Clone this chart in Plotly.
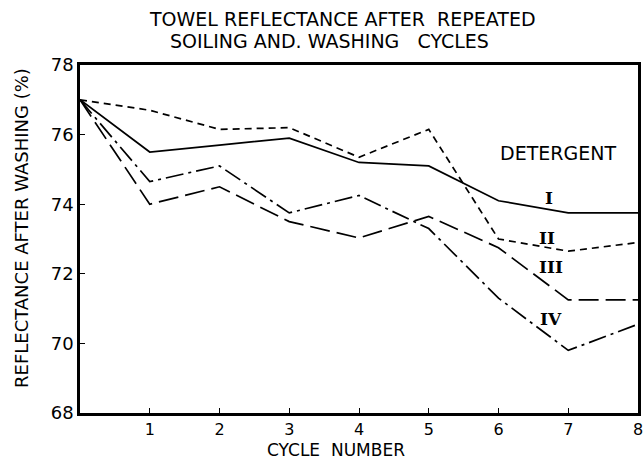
import plotly.graph_objects as go

cycles = [0, 1, 2, 3, 4, 5, 6, 7, 8]
det_I = [77.0, 75.5, 75.7, 75.9, 75.2, 75.1, 74.1, 73.75, 73.75]
det_II = [77.0, 76.7, 76.15, 76.2, 75.35, 76.15, 73.0, 72.65, 72.9]
det_III = [77.0, 74.0, 74.5, 73.5, 73.03, 73.65, 72.75, 71.25, 71.25]
det_IV = [77.0, 74.65, 75.1, 73.75, 74.25, 73.3, 71.3, 69.8, 70.55]

series_names = ["I", "II", "III", "IV"]
series_values = [det_I, det_II, det_III, det_IV]
series_dash = ["solid", "7px,5px", "20px,7px", "18px,5px,3px,5px"]
label_pos = [(6.73, 74.18), (6.69, 73.03), (6.75, 72.2), (6.75, 70.7)]

x_ticks = [1, 2, 3, 4, 5, 6, 7, 8]
y_ticks = [68, 70, 72, 74, 76, 78]

# plot area in pixels: left 80, right 638, top 65, bottom 413
L, R, T, B = 80, 638, 65, 413
W, H = 644, 460


def px(xp):
    return (xp - L) / (R - L)


def py(yp):
    return (B - yp) / (B - T)


fig = go.Figure()
for name, vals, dash in zip(series_names, series_values, series_dash):
    fig.add_trace(go.Scatter(x=cycles, y=vals, mode="lines", name=name,
                             line=dict(color="black", width=1.7, dash=dash)))

font_sans = "DejaVu Sans"
annotations = []
for name, (lx, ly) in zip(series_names, label_pos):
    annotations.append(dict(x=lx, y=ly, xref="x", yref="y", text="<b>" + name + "</b>",
                            showarrow=False, xanchor="center", yanchor="middle",
                            font=dict(family="DejaVu Serif", size=17, color="black")))
annotations.append(dict(x=6.85, y=75.47, xref="x", yref="y", text="DETERGENT", showarrow=False,
                        xanchor="center", yanchor="middle",
                        font=dict(family=font_sans, size=19, color="black")))
annotations.append(dict(x=px(342), y=py(19), xref="paper", yref="paper",
                        xanchor="center", yanchor="middle",
                        text="TOWEL REFLECTANCE AFTER\u00a0\u00a0REPEATED", showarrow=False,
                        font=dict(family=font_sans, size=19, color="black")))
annotations.append(dict(x=px(329), y=py(41), xref="paper", yref="paper",
                        xanchor="center", yanchor="middle",
                        text="SOILING AND. WASHING\u00a0\u00a0\u00a0CYCLES", showarrow=False,
                        font=dict(family=font_sans, size=19, color="black")))
annotations.append(dict(x=px(336), y=py(450), xref="paper", yref="paper",
                        xanchor="center", yanchor="middle",
                        text="CYCLE\u00a0\u00a0NUMBER", showarrow=False,
                        font=dict(family=font_sans, size=17, color="black")))
annotations.append(dict(x=px(22), y=py(228), xref="paper", yref="paper", textangle=-90,
                        xanchor="center", yanchor="middle",
                        text="REFLECTANCE AFTER WASHING (%)", showarrow=False,
                        font=dict(family=font_sans, size=18, color="black")))

fig.update_layout(
    width=W, height=H,
    margin=dict(l=L, r=W - R, t=T, b=H - B, autoexpand=False),
    paper_bgcolor="white", plot_bgcolor="white",
    showlegend=False,
    annotations=annotations,
    font=dict(family=font_sans, color="black"),
)
fig.update_xaxes(range=[0, 8], tickvals=x_ticks, ticktext=[str(t) for t in x_ticks],
                 ticks="inside", ticklen=5, tickwidth=1.2, tickcolor="black",
                 showline=True, linewidth=2.5, linecolor="black", mirror=True,
                 automargin=False,
                 showgrid=False, zeroline=False, tickfont=dict(size=16, color="black"))
fig.update_yaxes(range=[68, 78], tickvals=y_ticks, ticktext=[str(t) for t in y_ticks],
                 ticks="inside", ticklen=5, tickwidth=1.2, tickcolor="black",
                 showline=True, linewidth=2.5, linecolor="black", mirror=True,
                 automargin=False,
                 showgrid=False, zeroline=False, tickfont=dict(size=18, color="black"))

fig.write_html("out.html", config={"displayModeBar": False},
               post_script="document.body.style.margin='0';document.body.style.padding='0';")
